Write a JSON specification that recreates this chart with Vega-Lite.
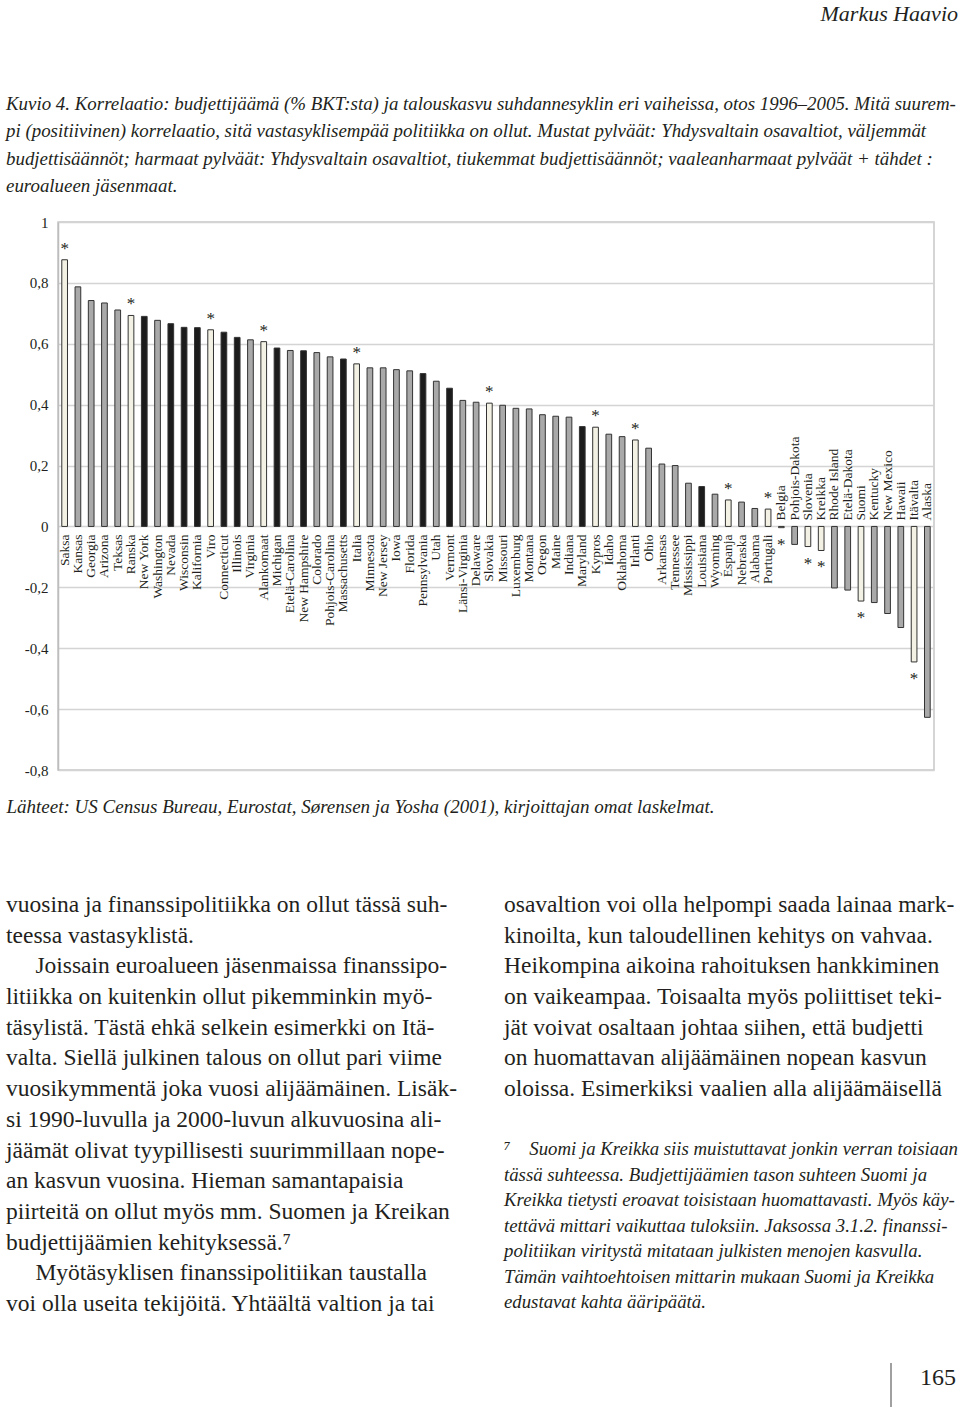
{
  "$schema": "https://vega.github.io/schema/vega-lite/v6.json",
  "padding": {"top": 3, "left": 0, "right": 0, "bottom": 0},
  "background": "white",
  "spacing": 0,
  "config": {"view": {"stroke": null}, "font": "Liberation Serif"},
  "title": {"text": "Markus Haavio", "anchor": "end", "frame": "bounds", "font": "Liberation Serif", "fontStyle": "italic", "fontWeight": "normal", "fontSize": 22, "color": "#231f20", "offset": 51, "dx": -3, "baseline": "alphabetic"},
  "vconcat": [
    {
      "width": 876,
      "height": 548,
      "view": {"stroke": "#c8c8c8", "strokeWidth": 1.5},
      "title": {
        "text": [
          "Kuvio 4. Korrelaatio: budjettijäämä (% BKT:sta) ja talouskasvu suhdannesyklin eri vaiheissa, otos 1996–2005. Mitä suurem-",
          "pi (positiivinen) korrelaatio, sitä vastasyklisempää politiikka on ollut. Mustat pylväät: Yhdysvaltain osavaltiot, väljemmät",
          "budjettisäännöt; harmaat pylväät: Yhdysvaltain osavaltiot, tiukemmat budjettisäännöt; vaaleanharmaat pylväät + tähdet :",
          "euroalueen jäsenmaat."
        ],
        "anchor": "start", "frame": "bounds", "dx": 5, "font": "Liberation Serif", "fontStyle": "italic", "fontWeight": "normal", "fontSize": 18.9, "lineHeight": 27.3, "color": "#231f20", "offset": 4, "baseline": "alphabetic"
      },
      "data": {"values": [
        {"alue": "Saksa", "arvo": 0.876, "ryhma": "euro"},
        {"alue": "Kansas", "arvo": 0.787, "ryhma": "tiukka"},
        {"alue": "Georgia", "arvo": 0.742, "ryhma": "tiukka"},
        {"alue": "Arizona", "arvo": 0.734, "ryhma": "tiukka"},
        {"alue": "Teksas", "arvo": 0.711, "ryhma": "tiukka"},
        {"alue": "Ranska", "arvo": 0.693, "ryhma": "euro"},
        {"alue": "New York", "arvo": 0.690, "ryhma": "vapaa"},
        {"alue": "Washington", "arvo": 0.677, "ryhma": "tiukka"},
        {"alue": "Nevada", "arvo": 0.666, "ryhma": "vapaa"},
        {"alue": "Wisconsin", "arvo": 0.654, "ryhma": "vapaa"},
        {"alue": "Kalifornia", "arvo": 0.653, "ryhma": "vapaa"},
        {"alue": "Viro", "arvo": 0.646, "ryhma": "euro"},
        {"alue": "Connecticut", "arvo": 0.638, "ryhma": "vapaa"},
        {"alue": "Illinois", "arvo": 0.621, "ryhma": "vapaa"},
        {"alue": "Virginia", "arvo": 0.613, "ryhma": "tiukka"},
        {"alue": "Alankomaat", "arvo": 0.607, "ryhma": "euro"},
        {"alue": "Michigan", "arvo": 0.586, "ryhma": "vapaa"},
        {"alue": "Etelä-Carolina", "arvo": 0.578, "ryhma": "tiukka"},
        {"alue": "New Hampshire", "arvo": 0.577, "ryhma": "vapaa"},
        {"alue": "Colorado", "arvo": 0.571, "ryhma": "tiukka"},
        {"alue": "Pohjois-Carolina", "arvo": 0.557, "ryhma": "tiukka"},
        {"alue": "Massachusetts", "arvo": 0.550, "ryhma": "vapaa"},
        {"alue": "Italia", "arvo": 0.534, "ryhma": "euro"},
        {"alue": "Minnesota", "arvo": 0.521, "ryhma": "tiukka"},
        {"alue": "New Jersey", "arvo": 0.521, "ryhma": "tiukka"},
        {"alue": "Iowa", "arvo": 0.515, "ryhma": "tiukka"},
        {"alue": "Florida", "arvo": 0.511, "ryhma": "tiukka"},
        {"alue": "Pennsylvania", "arvo": 0.502, "ryhma": "vapaa"},
        {"alue": "Utah", "arvo": 0.477, "ryhma": "tiukka"},
        {"alue": "Vermont", "arvo": 0.454, "ryhma": "vapaa"},
        {"alue": "Länsi-Virginia", "arvo": 0.414, "ryhma": "tiukka"},
        {"alue": "Delaware", "arvo": 0.408, "ryhma": "tiukka"},
        {"alue": "Slovakia", "arvo": 0.405, "ryhma": "euro"},
        {"alue": "Missouri", "arvo": 0.398, "ryhma": "tiukka"},
        {"alue": "Luxemburg", "arvo": 0.388, "ryhma": "tiukka"},
        {"alue": "Montana", "arvo": 0.386, "ryhma": "tiukka"},
        {"alue": "Oregon", "arvo": 0.367, "ryhma": "tiukka"},
        {"alue": "Maine", "arvo": 0.362, "ryhma": "tiukka"},
        {"alue": "Indiana", "arvo": 0.359, "ryhma": "tiukka"},
        {"alue": "Maryland", "arvo": 0.328, "ryhma": "vapaa"},
        {"alue": "Kypros", "arvo": 0.326, "ryhma": "euro"},
        {"alue": "Idaho", "arvo": 0.303, "ryhma": "tiukka"},
        {"alue": "Oklahoma", "arvo": 0.295, "ryhma": "tiukka"},
        {"alue": "Irlanti", "arvo": 0.284, "ryhma": "euro"},
        {"alue": "Ohio", "arvo": 0.257, "ryhma": "tiukka"},
        {"alue": "Arkansas", "arvo": 0.205, "ryhma": "tiukka"},
        {"alue": "Tennessee", "arvo": 0.200, "ryhma": "tiukka"},
        {"alue": "Mississippi", "arvo": 0.142, "ryhma": "tiukka"},
        {"alue": "Louisiana", "arvo": 0.131, "ryhma": "vapaa"},
        {"alue": "Wyoming", "arvo": 0.106, "ryhma": "tiukka"},
        {"alue": "Espanja", "arvo": 0.087, "ryhma": "euro"},
        {"alue": "Nebraska", "arvo": 0.080, "ryhma": "tiukka"},
        {"alue": "Alabama", "arvo": 0.059, "ryhma": "tiukka"},
        {"alue": "Portugali", "arvo": 0.057, "ryhma": "euro"},
        {"alue": "Belgia", "arvo": -0.004, "ryhma": "euro"},
        {"alue": "Pohjois-Dakota", "arvo": -0.059, "ryhma": "tiukka"},
        {"alue": "Slovenia", "arvo": -0.066, "ryhma": "euro"},
        {"alue": "Kreikka", "arvo": -0.079, "ryhma": "euro"},
        {"alue": "Rhode Island", "arvo": -0.202, "ryhma": "tiukka"},
        {"alue": "Etelä-Dakota", "arvo": -0.209, "ryhma": "tiukka"},
        {"alue": "Suomi", "arvo": -0.245, "ryhma": "euro"},
        {"alue": "Kentucky", "arvo": -0.250, "ryhma": "tiukka"},
        {"alue": "New Mexico", "arvo": -0.286, "ryhma": "tiukka"},
        {"alue": "Hawaii", "arvo": -0.332, "ryhma": "tiukka"},
        {"alue": "Itävalta", "arvo": -0.445, "ryhma": "euro"},
        {"alue": "Alaska", "arvo": -0.627, "ryhma": "tiukka"}
      ]},
      "encoding": {
        "x": {
          "field": "alue", "type": "nominal", "sort": null,
          "scale": {"paddingInner": 0.57, "paddingOuter": 0.285},
          "axis": {
            "title": "Lähteet: US Census Bureau, Eurostat,  Sørensen ja Yosha (2001), kirjoittajan omat laskelmat.",
            "labels": false, "ticks": false, "domain": false,
            "titleAnchor": "start", "titleX": -52, "titleY": 42, "titleAlign": "left", "titleBaseline": "alphabetic",
            "titleFont": "Liberation Serif", "titleFontStyle": "italic", "titleFontWeight": "normal", "titleFontSize": 19, "titleColor": "#231f20"
          }
        }
      },
      "layer": [
        {
          "mark": {"type": "bar", "stroke": "#333333", "strokeWidth": 1},
          "encoding": {
            "y": {
              "field": "arvo", "type": "quantitative",
              "scale": {"domain": [-0.8, 1], "nice": false},
              "axis": {
                "title": null,
                "values": [-0.8, -0.6, -0.4, -0.2, 0, 0.2, 0.4, 0.6, 0.8, 1],
                "labelExpr": "replace(replace(format(datum.value, '~g'), '.', ','), '−', '-')",
                "ticks": false, "domainColor": "#bdbdbd", "domainWidth": 1.5,
                "gridColor": "#d4d4d4", "gridWidth": 1.5,
                "labelFont": "Liberation Serif", "labelFontSize": 15, "labelColor": "#231f20",
                "labelPadding": 10, "minExtent": 57, "maxExtent": 57
              }
            },
            "color": {
              "field": "ryhma", "type": "nominal",
              "scale": {"domain": ["euro", "tiukka", "vapaa"], "range": ["#f3f1e3", "#a9a9a9", "#1c1c1c"]},
              "legend": null
            }
          }
        },
        {
          "transform": [{"filter": "datum.arvo >= 0"}],
          "mark": {"type": "text", "angle": 270, "align": "right", "baseline": "middle", "font": "Liberation Serif", "fontSize": 13.5, "fill": "#231f20", "yOffset": 8},
          "encoding": {"y": {"datum": 0, "type": "quantitative"}, "text": {"field": "alue"}}
        },
        {
          "transform": [{"filter": "datum.arvo < 0"}],
          "mark": {"type": "text", "angle": 270, "align": "left", "baseline": "middle", "font": "Liberation Serif", "fontSize": 13.5, "fill": "#231f20", "yOffset": -6},
          "encoding": {"y": {"datum": 0, "type": "quantitative"}, "text": {"field": "alue"}}
        },
        {
          "transform": [{"filter": "datum.ryhma == 'euro' && datum.arvo >= 0"}],
          "mark": {"type": "text", "align": "center", "baseline": "alphabetic", "font": "Liberation Serif", "fontSize": 17, "fill": "#231f20", "yOffset": -6},
          "encoding": {"y": {"field": "arvo", "type": "quantitative"}, "text": {"value": "*"}}
        },
        {
          "transform": [{"filter": "datum.ryhma == 'euro' && datum.arvo < 0"}],
          "mark": {"type": "text", "align": "center", "baseline": "alphabetic", "font": "Liberation Serif", "fontSize": 17, "fill": "#231f20", "yOffset": 22},
          "encoding": {"y": {"field": "arvo", "type": "quantitative"}, "text": {"value": "*"}}
        }
      ]
    },
    {
      "width": 903,
      "height": 599,
      "data": {"values": [
        {"rooli": "leipa", "palsta": 0, "rivi": 1, "teksti": "vuosina ja finanssipolitiikka on ollut tässä suh-"},
        {"rooli": "leipa", "palsta": 0, "rivi": 2, "teksti": "teessa vastasyklistä."},
        {"rooli": "leipa", "palsta": 0, "rivi": 3, "teksti": "\u200b\u00a0\u00a0\u00a0\u00a0\u00a0Joissain euroalueen jäsenmaissa finanssipo-"},
        {"rooli": "leipa", "palsta": 0, "rivi": 4, "teksti": "litiikka on kuitenkin ollut pikemminkin myö-"},
        {"rooli": "leipa", "palsta": 0, "rivi": 5, "teksti": "täsylistä. Tästä ehkä selkein esimerkki on Itä-"},
        {"rooli": "leipa", "palsta": 0, "rivi": 6, "teksti": "valta. Siellä julkinen talous on ollut pari viime"},
        {"rooli": "leipa", "palsta": 0, "rivi": 7, "teksti": "vuosikymmentä joka vuosi alijäämäinen. Lisäk-"},
        {"rooli": "leipa", "palsta": 0, "rivi": 8, "teksti": "si 1990-luvulla ja 2000-luvun alkuvuosina ali-"},
        {"rooli": "leipa", "palsta": 0, "rivi": 9, "teksti": "jäämät olivat tyypillisesti suurimmillaan nope-"},
        {"rooli": "leipa", "palsta": 0, "rivi": 10, "teksti": "an kasvun vuosina. Hieman samantapaisia"},
        {"rooli": "leipa", "palsta": 0, "rivi": 11, "teksti": "piirteitä on ollut myös mm. Suomen ja Kreikan"},
        {"rooli": "leipa", "palsta": 0, "rivi": 12, "teksti": "budjettijäämien kehityksessä.⁷"},
        {"rooli": "leipa", "palsta": 0, "rivi": 13, "teksti": "\u200b\u00a0\u00a0\u00a0\u00a0\u00a0Myötäsyklisen finanssipolitiikan taustalla"},
        {"rooli": "leipa", "palsta": 0, "rivi": 14, "teksti": "voi olla useita tekijöitä. Yhtäältä valtion ja tai"},
        {"rooli": "leipa", "palsta": 1, "rivi": 1, "teksti": "osavaltion voi olla helpompi saada lainaa mark-"},
        {"rooli": "leipa", "palsta": 1, "rivi": 2, "teksti": "kinoilta, kun taloudellinen kehitys on vahvaa."},
        {"rooli": "leipa", "palsta": 1, "rivi": 3, "teksti": "Heikompina aikoina rahoituksen hankkiminen"},
        {"rooli": "leipa", "palsta": 1, "rivi": 4, "teksti": "on vaikeampaa. Toisaalta myös poliittiset teki-"},
        {"rooli": "leipa", "palsta": 1, "rivi": 5, "teksti": "jät voivat osaltaan johtaa siihen, että budjetti"},
        {"rooli": "leipa", "palsta": 1, "rivi": 6, "teksti": "on huomattavan alijäämäinen nopean kasvun"},
        {"rooli": "leipa", "palsta": 1, "rivi": 7, "teksti": "oloissa. Esimerkiksi vaalien alla alijäämäisellä"},
        {"rooli": "alaviite", "palsta": 1, "rivi": 1, "teksti": "⁷\u00a0\u00a0\u00a0\u00a0Suomi ja Kreikka siis muistuttavat jonkin verran toisiaan"},
        {"rooli": "alaviite", "palsta": 1, "rivi": 2, "teksti": "tässä suhteessa. Budjettijäämien tason suhteen Suomi ja"},
        {"rooli": "alaviite", "palsta": 1, "rivi": 3, "teksti": "Kreikka tietysti eroavat toisistaan huomattavasti. Myös käy-"},
        {"rooli": "alaviite", "palsta": 1, "rivi": 4, "teksti": "tettävä mittari vaikuttaa tuloksiin. Jaksossa 3.1.2. finanssi-"},
        {"rooli": "alaviite", "palsta": 1, "rivi": 5, "teksti": "politiikan viritystä mitataan julkisten menojen kasvulla."},
        {"rooli": "alaviite", "palsta": 1, "rivi": 6, "teksti": "Tämän vaihtoehtoisen mittarin mukaan Suomi ja Kreikka"},
        {"rooli": "alaviite", "palsta": 1, "rivi": 7, "teksti": "edustavat kahta ääripäätä."},
        {"rooli": "sivu", "palsta": 1, "rivi": 1, "teksti": "165"}
      ]},
      "resolve": {"scale": {"y": "independent"}},
      "layer": [
        {
          "transform": [{"filter": "datum.rooli == 'leipa'"}],
          "mark": {"type": "text", "align": "left", "baseline": "alphabetic", "font": "Liberation Serif", "fontSize": 23.5, "fill": "#231f20"},
          "encoding": {
            "x": {"field": "palsta", "type": "quantitative", "scale": {"domain": [0, 1], "range": [-52, 446]}, "axis": null},
            "y": {"field": "rivi", "type": "quantitative", "scale": {"domain": [1, 14], "range": [95, 494]}, "axis": null},
            "text": {"field": "teksti"}
          }
        },
        {
          "transform": [{"filter": "datum.rooli == 'alaviite'"}],
          "mark": {"type": "text", "align": "left", "baseline": "alphabetic", "font": "Liberation Serif", "fontStyle": "italic", "fontSize": 18.8, "fill": "#231f20"},
          "encoding": {
            "x": {"field": "palsta", "type": "quantitative", "axis": null},
            "y": {"field": "rivi", "type": "quantitative", "scale": {"domain": [1, 7], "range": [338, 491]}, "axis": null},
            "text": {"field": "teksti"}
          }
        },
        {
          "transform": [{"filter": "datum.rooli == 'sivu'"}],
          "mark": {"type": "text", "align": "right", "baseline": "alphabetic", "font": "Liberation Serif", "fontSize": 24, "fill": "#231f20", "dx": 452},
          "encoding": {
            "x": {"field": "palsta", "type": "quantitative", "axis": null},
            "y": {"field": "rivi", "type": "quantitative", "scale": {"domain": [0, 1], "range": [0, 568]}, "axis": null},
            "text": {"field": "teksti"}
          }
        },
        {
          "transform": [{"filter": "datum.rooli == 'sivu'"}],
          "mark": {"type": "rule", "color": "#808080", "strokeWidth": 1.5, "xOffset": 387, "yOffset": -22, "y2Offset": 22},
          "encoding": {
            "x": {"field": "palsta", "type": "quantitative", "axis": null},
            "y": {"field": "rivi", "type": "quantitative", "scale": {"domain": [0, 1], "range": [0, 568]}, "axis": null},
            "y2": {"field": "rivi"}
          }
        }
      ]
    }
  ]
}
